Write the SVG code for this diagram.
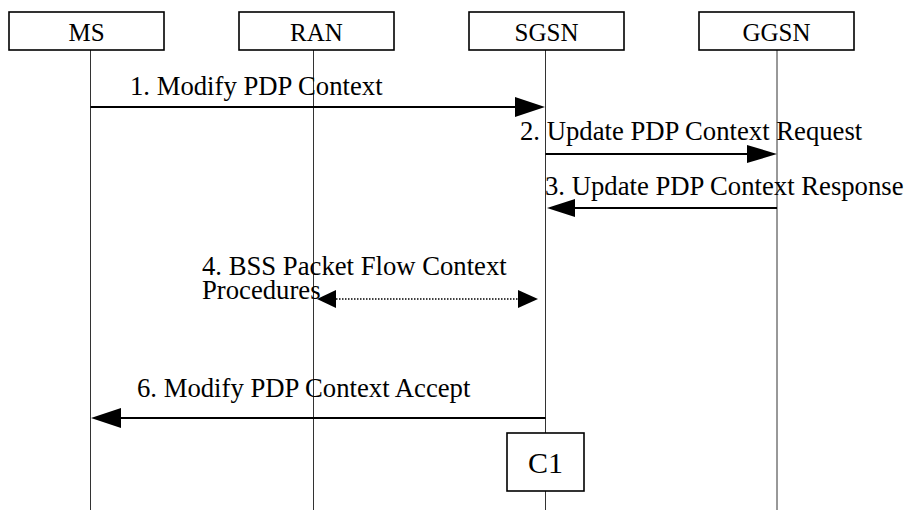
<svg xmlns="http://www.w3.org/2000/svg" width="907" height="510" viewBox="0 0 907 510">
<style>
.box{fill:#fff;stroke:#000;stroke-width:1.6}
.hdr{font-family:'Liberation Serif','Times New Roman',Times,serif;font-size:25px;text-anchor:middle;fill:#000}
.lbl{font-family:'Liberation Serif','Times New Roman',Times,serif;font-size:26.7px;fill:#000}
.life{stroke:#333;stroke-width:1}
.msg{stroke:#000;stroke-width:2;fill:none}
.dot{stroke:#000;stroke-width:1.5;stroke-dasharray:1.5 1.5;fill:none}
.head{fill:#000}
</style>
<g id="lifelines">
<line class="life" x1="90.5" y1="50" x2="90.5" y2="510"/>
<line class="life" x1="313.5" y1="50" x2="313.5" y2="510"/>
<line class="life" x1="545.5" y1="50" x2="545.5" y2="510"/>
<line class="life" x1="777" y1="50" x2="777" y2="510"/>
</g>
<g id="node-MS"><rect class="box" x="9" y="12" width="155" height="38"/><text class="hdr" x="86.5" y="41">MS</text></g>
<g id="node-RAN"><rect class="box" x="239" y="12" width="155" height="38"/><text class="hdr" x="316.5" y="41">RAN</text></g>
<g id="node-SGSN"><rect class="box" x="469" y="12" width="155" height="38"/><text class="hdr" x="546.5" y="41">SGSN</text></g>
<g id="node-GGSN"><rect class="box" x="699" y="12" width="155" height="38"/><text class="hdr" x="776.5" y="41">GGSN</text></g>
<g id="connectors">
<line class="msg" x1="90.5" y1="107" x2="518" y2="107"/>
<polygon class="head" points="545,107 515,97 515,117"/>
<text class="lbl" x="130" y="95">1. Modify PDP Context</text>
<line class="msg" x1="545.5" y1="154" x2="750" y2="154"/>
<polygon class="head" points="777,154 747,145 747,163"/>
<text class="lbl" x="520" y="140">2. Update PDP Context Request</text>
<line class="msg" x1="777" y1="208" x2="572" y2="208"/>
<polygon class="head" points="547,208 575,199 575,217"/>
<text class="lbl" x="545" y="195">3. Update PDP Context Response</text>
<line class="dot" x1="333" y1="299" x2="520" y2="299"/>
<polygon class="head" points="317,299 336,290 336,308"/>
<polygon class="head" points="538,299 518,290 518,308"/>
<text class="lbl" x="202" y="275">4. BSS Packet Flow Context</text>
<text class="lbl" x="202" y="299">Procedures</text>
<line class="msg" x1="545.5" y1="418" x2="118" y2="418"/>
<polygon class="head" points="91,418 121,408 121,428"/>
<text class="lbl" x="137" y="397">6. Modify PDP Context Accept</text>
</g>
<g id="node-C1"><rect class="box" x="507" y="433" width="77" height="58"/><text class="hdr" style="font-size:30px" x="545.5" y="473">C1</text></g>
</svg>
